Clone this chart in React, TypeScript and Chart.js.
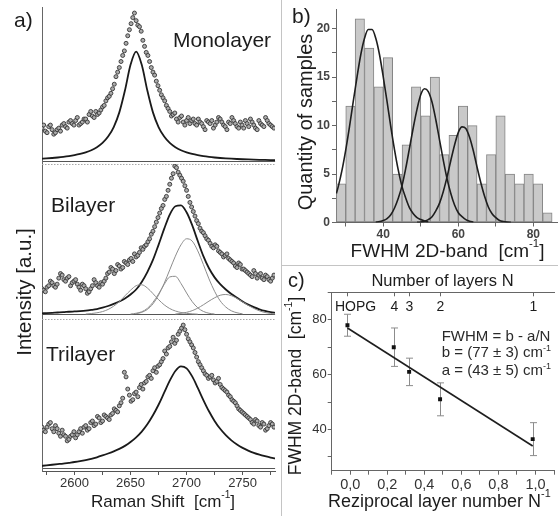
import React, { useEffect, useRef } from 'react';
import { Chart, registerables } from 'chart.js';

Chart.register(...registerables);

const FONT = "'Liberation Sans', Arial, Helvetica, sans-serif";
Chart.defaults.font.family = FONT;

// ---------- Panel a: Raman 2D band ----------
const ramanShift = [
  2571, 2572.5, 2574, 2575.5, 2577, 2578.5, 2580, 2581.5, 2583, 2584.5,
  2586, 2587.5, 2589, 2590.5, 2592, 2593.5, 2595, 2596.5, 2598, 2599.5,
  2601, 2602.5, 2604, 2605.5, 2607, 2608.5, 2610, 2611.5, 2613, 2614.5,
  2616, 2617.5, 2619, 2620.5, 2622, 2623.5, 2625, 2626.5, 2628, 2629.5,
  2631, 2632.5, 2634, 2635.5, 2637, 2638.5, 2640, 2641.5, 2643, 2644.5,
  2646, 2647.5, 2649, 2650.5, 2652, 2653.5, 2655, 2656.5, 2658, 2659.5,
  2661, 2662.5, 2664, 2665.5, 2667, 2668.5, 2670, 2671.5, 2673, 2674.5,
  2676, 2677.5, 2679, 2680.5, 2682, 2683.5, 2685, 2686.5, 2688, 2689.5,
  2691, 2692.5, 2694, 2695.5, 2697, 2698.5, 2700, 2701.5, 2703, 2704.5,
  2706, 2707.5, 2709, 2710.5, 2712, 2713.5, 2715, 2716.5, 2718, 2719.5,
  2721, 2722.5, 2724, 2725.5, 2727, 2728.5, 2730, 2731.5, 2733, 2734.5,
  2736, 2737.5, 2739, 2740.5, 2742, 2743.5, 2745, 2746.5, 2748, 2749.5,
  2751, 2752.5, 2754, 2755.5, 2757, 2758.5, 2760, 2761.5, 2763, 2764.5,
  2766, 2767.5, 2769, 2770.5, 2772, 2773.5, 2775, 2776.5, 2778,
];
const monoData = [
  22, 24, 20, 19, 23, 24, 21, 18, 19, 21, 22, 20, 24, 25, 23, 22, 26, 27, 25, 24,
  27, 29, 24, 25, 26, 28, 28, 26, 31, 33, 30, 29, 33, 31, 32, 34, 36, 37, 40, 42,
  43, 45, 48, 51, 56, 59, 62, 66, 70, 73, 78, 83, 87, 91, 95, 98, 93, 90, 89, 86,
  80, 76, 72, 70, 66, 62, 59, 57, 53, 50, 47, 44, 42, 40, 37, 35, 33, 30, 31, 32,
  28, 26, 29, 30, 26, 24, 27, 29, 25, 27, 28, 25, 24, 28, 26, 25, 23, 21, 27, 26,
  25, 27, 22, 24, 26, 29, 28, 26, 24, 23, 21, 26, 25, 29, 27, 25, 23, 22, 26, 24,
  22, 27, 25, 23, 28, 26, 24, 22, 21, 27, 25, 24, 23, 29, 27, 25, 24, 23, 22,
];
const biData = [
  17, 16, 15, 18, 19, 22, 21, 19, 18, 20, 24, 27, 26, 23, 22, 24, 25, 19, 21, 22,
  23, 20, 18, 16, 20, 19, 17, 14, 15, 17, 19, 23, 21, 19, 18, 21, 20, 22, 24, 27,
  28, 31, 30, 27, 29, 33, 32, 30, 31, 35, 34, 33, 36, 37, 35, 40, 38, 39, 41, 44,
  43, 45, 46, 48, 50, 53, 55, 58, 61, 64, 67, 70, 72, 76, 78, 82, 86, 90, 93, 98,
  97, 94, 92, 90, 88, 85, 82, 78, 74, 71, 68, 65, 62, 60, 57, 55, 54, 52, 50, 49,
  47, 45, 44, 46, 45, 42, 41, 40, 38, 39, 40, 37, 36, 35, 34, 32, 31, 34, 33, 30,
  30, 29, 28, 27, 26, 25, 29, 27, 24, 26, 27, 24, 23, 26, 25, 23, 22, 24, 26,
];
const triData = [
  27, 25, 24, 27, 29, 30, 26, 24, 28, 26, 23, 21, 25, 22, 21, 18, 19, 21, 22, 24,
  20, 22, 24, 26, 23, 27, 28, 25, 26, 30, 31, 28, 29, 34, 33, 30, 31, 35, 34, 33,
  32, 35, 36, 39, 38, 37, 41, 43, 46, 63, 60, 52, 48, 44, 45, 49, 50, 47, 53, 55,
  52, 56, 57, 60, 61, 59, 64, 66, 63, 67, 68, 70, 72, 77, 75, 79, 80, 83, 86, 82,
  84, 88, 90, 92, 94, 91, 88, 85, 83, 81, 79, 76, 73, 70, 68, 66, 64, 62, 61, 59,
  60, 61, 58, 56, 57, 59, 55, 53, 52, 51, 50, 48, 47, 45, 44, 43, 41, 39, 38, 37,
  36, 35, 34, 33, 32, 30, 29, 32, 31, 28, 27, 30, 29, 25, 26, 28, 30, 29, 27,
];

const fitShift = [2570, 2575, 2580, 2585, 2590, 2595, 2600, 2605, 2610, 2615, 2620, 2625, 2630, 2635, 2640, 2645, 2650, 2655, 2660, 2665, 2670, 2675, 2680, 2685, 2690, 2695, 2700, 2705, 2710, 2715, 2720, 2725, 2730, 2735, 2740, 2745, 2750, 2755, 2760, 2765, 2770, 2775, 2780];
const monoFit = [1.79, 2.01, 2.27, 2.6, 3.0, 3.49, 4.12, 4.93, 5.99, 7.41, 9.39, 12.2, 16.4, 22.7, 32.4, 46.8, 63.8, 72.5, 63.8, 46.8, 32.4, 22.7, 16.4, 12.2, 9.39, 7.41, 5.99, 4.93, 4.12, 3.49, 3.0, 2.6, 2.27, 2.01, 1.79, 1.6, 1.44, 1.3, 1.18, 1.08, 0.99, 0.91, 0.84];
const biFit = [0.7, 0.9, 1.1, 1.3, 1.5, 1.8, 2.0, 2.2, 2.5, 3.0, 3.6, 4.5, 5.6, 7.0, 8.6, 10.6, 13.2, 16.5, 21.5, 28, 36, 46, 56.5, 66, 71.5, 72, 67.5, 59, 48.5, 38.5, 30.5, 24.5, 20, 16.5, 13.5, 11, 8.5, 6.5, 4.8, 3.4, 2.3, 1.5, 1.0];
const biComp1 = [null, null, null, null, null, null, null, null, 0.3, 0.6, 1.1, 1.9, 3.3, 5.5, 8.5, 12.3, 16, 19, 19.6, 17.5, 13.8, 9.8, 6.4, 3.9, 2.3, 1.3, 0.7, 0.4, 0.2, null, null, null, null, null, null, null, null, null, null, null, null, null, null];
const biComp2 = [null, null, null, null, null, null, null, null, null, null, null, null, null, null, null, null, 0.3, 0.8, 1.8, 4, 8, 13.5, 19.8, 24.8, 25.2, 20.5, 14.2, 8.5, 4.4, 2, 0.8, 0.3, null, null, null, null, null, null, null, null, null, null, null];
const biComp3 = [null, null, null, null, null, null, null, null, null, null, null, null, null, null, null, null, null, 0.5, 1.4, 3.3, 7, 12.8, 20.5, 29.5, 38.5, 46, 50, 48.5, 42, 33, 23.5, 15.3, 9, 4.9, 2.4, 1.1, 0.4, null, null, null, null, null, null];
const biComp4 = [null, null, null, null, null, null, null, null, null, null, null, null, null, null, null, null, null, null, null, null, null, null, null, null, 0.3, 0.7, 1.4, 2.5, 4.2, 6.4, 8.8, 11, 12.7, 13.2, 12.4, 10.6, 8.3, 6, 4, 2.4, 1.3, 0.7, 0.3];
const triFit = [1.5, 1.9, 2.3, 2.7, 3.1, 3.6, 4.1, 4.7, 5.4, 6.2, 7.2, 8.4, 9.7, 11.1, 12.7, 14.7, 17.2, 20.3, 24.1, 28.9, 34.8, 41.7, 49.6, 57.5, 63.9, 66.9, 65.6, 60.3, 52.8, 44.8, 37.4, 31.1, 25.9, 21.7, 18.3, 15.6, 13.4, 11.6, 10.1, 8.9, 7.9, 7.0, 6.3];

// ---------- Panel b: FWHM histogram ----------
const binCenters = [28.75, 31.25, 33.75, 36.25, 38.75, 41.25, 43.75, 46.25, 48.75, 51.25, 53.75, 56.25, 58.75, 61.25, 63.75, 66.25, 68.75, 71.25, 73.75, 76.25, 78.75, 81.25, 83.75];
const sampleCounts = [4, 12, 21, 18, 14, 17, 5, 8, 14, 11, 15, 7, 9, 12, 10, 4, 7, 11, 5, 4, 5, 4, 1];
const gauss1X = [27.5, 28, 29, 30, 31, 32, 33, 34, 35, 36, 37, 38, 39, 40, 41, 42, 43, 44, 45, 46, 47, 48, 49, 50, 51, 52];
const gauss1Y = [3.0, 3.7, 5.4, 7.5, 9.9, 12.5, 15.0, 17.3, 19.0, 19.9, 19.9, 19.0, 17.3, 15.0, 12.5, 9.9, 7.5, 5.4, 3.7, 2.5, 1.5, 0.9, 0.5, 0.3, 0.15, 0.07];
const gauss2X = [38, 39, 40, 41, 42, 43, 44, 45, 46, 47, 48, 49, 50, 51, 52, 53, 54, 55, 56, 57, 58, 59, 60, 61, 62, 63, 64];
const gauss2Y = [0.04, 0.1, 0.2, 0.4, 0.8, 1.5, 2.5, 3.8, 5.6, 7.7, 9.8, 11.7, 13.2, 13.8, 13.5, 12.4, 10.6, 8.5, 6.4, 4.5, 3.0, 1.8, 1.0, 0.6, 0.3, 0.13, 0.05];
const gauss3X = [49, 50, 51, 52, 53, 54, 55, 56, 57, 58, 59, 60, 61, 62, 63, 64, 65, 66, 67, 68, 69, 70, 71, 72, 73, 74];
const gauss3Y = [0.02, 0.06, 0.14, 0.3, 0.6, 1.2, 2.0, 3.2, 4.7, 6.4, 8.0, 9.3, 9.86, 9.7, 8.8, 7.4, 5.7, 4.1, 2.7, 1.6, 0.9, 0.5, 0.2, 0.1, 0.04, 0.01];

// ---------- Panel c: FWHM vs 1/N ----------
const recipN = [0, 0.25, 0.333, 0.5, 1.0];
const fwhmVals = [78, 70, 61, 51, 36.5];
const fwhmErr = [4, 7, 5, 6, 6];
const fitLineX = [0, 1];
const fitLineY = [77, 34];
const layerLabels = ['HOPG', '4', '3', '2', '1'];
const layerPos = [0, 0.25, 0.333, 0.5, 1.0];

// ---------- helpers ----------
type Part = { t: string; sup?: boolean };
type TextItem = {
  x: number; y: number; parts: Part[]; size: number; weight?: string; color?: string;
  align?: 'left' | 'center'; rot?: number; baseline?: CanvasTextBaseline;
};

function drawRich(ctx: CanvasRenderingContext2D, it: TextItem) {
  const size = it.size;
  const supSize = size * 0.6;
  const weight = it.weight || 'normal';
  const fontOf = (s: number) => `${weight} ${s}px ${FONT}`;
  let total = 0;
  const widths = it.parts.map((p) => {
    ctx.font = fontOf(p.sup ? supSize : size);
    const w = ctx.measureText(p.t).width;
    total += w;
    return w;
  });
  ctx.save();
  ctx.translate(it.x, it.y);
  if (it.rot) ctx.rotate((it.rot * Math.PI) / 180);
  ctx.fillStyle = it.color || '#1c1c1c';
  ctx.textBaseline = it.baseline || 'alphabetic';
  ctx.textAlign = 'left';
  let x = it.align === 'center' ? -total / 2 : 0;
  it.parts.forEach((p, i) => {
    ctx.font = fontOf(p.sup ? supSize : size);
    ctx.fillText(p.t, x, p.sup ? -size * 0.42 : 0);
    x += widths[i];
  });
  ctx.restore();
}

function textPlugin(items: TextItem[]) {
  return {
    id: 'richTexts',
    afterDraw(chart: any) {
      const ctx = chart.ctx as CanvasRenderingContext2D;
      items.forEach((it) => drawRich(ctx, it));
    },
  };
}

const pts = (xs: number[], ys: (number | null)[]) =>
  xs.map((x, i) => ({ x, y: ys[i] })).filter((p) => p.y !== null && p.y !== undefined) as { x: number; y: number }[];

const cm = (pre: string, post = ']'): Part[] => [{ t: pre }, { t: '-1', sup: true }, { t: post }];

const noLegend = { legend: { display: false }, tooltip: { enabled: false } };

// ---------- Chart a ----------
function makeA(canvas: HTMLCanvasElement) {
  const yStack = (weight: number, sw: number, min: number, max: number) => ({
    type: 'linear',
    position: 'left',
    stack: 'spectra',
    stackWeight: sw,
    weight,
    min,
    max,
    afterBuildTicks: (s: any) => { s.ticks = [{ value: 0 }]; },
    ticks: { display: false },
    grid: { drawTicks: false, color: '#555', lineWidth: 1 },
    border: { display: true, color: '#666', width: 1 },
    afterFit: (s: any) => { s.width = 0; },
  });
  const dots = (data: number[], axis: string) => ({
    data: pts(ramanShift, data), yAxisID: axis, showLine: false, pointRadius: 2,
    pointBorderWidth: 0.9, pointBorderColor: '#363636', pointBackgroundColor: '#ababab',
  });
  const fit = (data: (number | null)[], axis: string, color = '#1a1a1a', width = 1.8) => ({
    data: pts(fitShift, data), yAxisID: axis, borderColor: color, borderWidth: width,
    pointRadius: 0, cubicInterpolationMode: 'monotone', fill: false,
  });
  const separators = {
    id: 'separators',
    beforeDatasetsDraw(chart: any) {
      const { ctx, chartArea } = chart;
      ctx.save();
      ctx.strokeStyle = '#a8a8a8';
      ctx.lineWidth = 1;
      ctx.setLineDash([1.5, 1.5]);
      ['yMono', 'yBi'].forEach((id) => {
        const y = Math.round(chart.scales[id].bottom) + 0.5;
        ctx.beginPath();
        ctx.moveTo(chartArea.left, y);
        ctx.lineTo(chartArea.right, y);
        ctx.stroke();
      });
      ctx.restore();
    },
  };
  const texts: TextItem[] = [
    { x: 14, y: 27, parts: [{ t: 'a)' }], size: 21 },
    { x: 173, y: 47, parts: [{ t: 'Monolayer' }], size: 21 },
    { x: 51, y: 212, parts: [{ t: 'Bilayer' }], size: 21 },
    { x: 46, y: 361, parts: [{ t: 'Trilayer' }], size: 21 },
    { x: 25, y: 292, parts: [{ t: 'Intensity [a.u.]' }], size: 20.5, rot: -90, align: 'center', baseline: 'middle' },
    { x: 163, y: 502, parts: cm('Raman Shift  [cm'), size: 17, align: 'center', baseline: 'middle' },
  ];
  return new Chart(canvas, {
    type: 'line',
    data: {
      datasets: [
        dots(monoData, 'yMono'),
        fit(monoFit, 'yMono'),
        dots(biData, 'yBi'),
        fit(biComp1, 'yBi', '#8c8c8c', 1),
        fit(biComp2, 'yBi', '#8c8c8c', 1),
        fit(biComp3, 'yBi', '#8c8c8c', 1),
        fit(biComp4, 'yBi', '#8c8c8c', 1),
        fit(biFit, 'yBi'),
        dots(triData, 'yTri'),
        fit(triFit, 'yTri'),
      ] as any,
    },
    options: {
      animation: false,
      responsive: false,
      devicePixelRatio: 1,
      layout: { padding: { left: 42, right: 1, top: 7, bottom: 0 } },
      plugins: noLegend as any,
      scales: {
        x: {
          type: 'linear', position: 'bottom', min: 2571, max: 2779,
          ticks: {
            stepSize: 25, includeBounds: false, autoSkip: false, maxRotation: 0, padding: 1,
            color: '#333', font: { size: 13 },
            callback: (v: any) => (Math.round(v) % 50 === 0 ? String(Math.round(v)) : ''),
          },
          grid: { drawOnChartArea: false, drawTicks: true, tickLength: 4, color: '#555' },
          border: { color: '#555' },
          afterFit: (s: any) => { s.height = 45; },
        },
        yMono: yStack(3, 157, -1.7, 102),
        yBi: yStack(2, 155, -3.0, 99.4),
        yTri: yStack(1, 152, -1.8, 98),
      } as any,
    },
    plugins: [separators, textPlugin(texts)],
  });
}

// ---------- Chart b ----------
function makeB(canvas: HTMLCanvasElement) {
  const gauss = (xs: number[], ys: number[]) => ({
    type: 'line', data: pts(xs, ys), borderColor: '#1e1e1e', borderWidth: 1.6, pointRadius: 0,
    cubicInterpolationMode: 'monotone', fill: false, order: 1,
  });
  const texts: TextItem[] = [
    { x: 9, y: 23, parts: [{ t: 'b)' }], size: 21 },
    { x: 23.7, y: 122, parts: [{ t: 'Quantity of samples' }], size: 20, rot: -90, align: 'center', baseline: 'middle' },
    { x: 164.5, y: 251.5, parts: cm('FWHM 2D-band  [cm'), size: 19, align: 'center', baseline: 'middle' },
  ];
  return new Chart(canvas, {
    type: 'bar',
    data: {
      datasets: [
        {
          type: 'bar', data: pts(binCenters, sampleCounts), backgroundColor: '#c9c9c9',
          borderColor: '#858585', borderWidth: 1, borderSkipped: false,
          barPercentage: 1, categoryPercentage: 1, order: 2,
        },
        gauss(gauss1X, gauss1Y),
        gauss(gauss2X, gauss2Y),
        gauss(gauss3X, gauss3Y),
      ] as any,
    },
    options: {
      animation: false,
      responsive: false,
      devicePixelRatio: 1,
      layout: { padding: { left: 0, right: 1, top: 8, bottom: 0 } },
      plugins: noLegend as any,
      scales: {
        x: {
          type: 'linear', min: 27.4, max: 86.3, offset: false,
          ticks: {
            stepSize: 10, includeBounds: false, autoSkip: false, maxRotation: 0, padding: 0.5,
            color: '#444', font: { size: 12, weight: 'bold' },
            callback: (v: any) => (Math.round(v) % 20 === 0 ? String(Math.round(v)) : ''),
          },
          grid: { offset: false, drawOnChartArea: false, tickLength: 4, color: '#666' },
          border: { color: '#666' },
          afterFit: (s: any) => { s.height = 41.5; },
        },
        y: {
          type: 'linear', min: 0, max: 22,
          ticks: {
            stepSize: 2.5, includeBounds: false, padding: 2, color: '#444',
            font: { size: 12, weight: 'bold' },
            callback: (v: any) => (v % 5 === 0 ? String(v) : ''),
          },
          grid: { drawOnChartArea: false, tickLength: 4, color: '#666' },
          border: { color: '#666' },
          afterFit: (s: any) => { s.width = 53; },
        },
      } as any,
    },
    plugins: [textPlugin(texts)],
  });
}

// ---------- Chart c ----------
function makeC(canvas: HTMLCanvasElement) {
  const errorBars = {
    id: 'errorBars',
    beforeDatasetsDraw(chart: any) {
      const { ctx, scales } = chart;
      const x = scales.x, y = scales.y;
      ctx.save();
      ctx.strokeStyle = '#8c8c8c';
      ctx.lineWidth = 1;
      recipN.forEach((n, i) => {
        const px = Math.round(x.getPixelForValue(n)) + 0.5;
        const top = y.getPixelForValue(fwhmVals[i] + fwhmErr[i]);
        const bot = y.getPixelForValue(fwhmVals[i] - fwhmErr[i]);
        ctx.beginPath();
        ctx.moveTo(px, top); ctx.lineTo(px, bot);
        ctx.moveTo(px - 3.5, top); ctx.lineTo(px + 3.5, top);
        ctx.moveTo(px - 3.5, bot); ctx.lineTo(px + 3.5, bot);
        ctx.stroke();
      });
      ctx.restore();
    },
  };
  const topAxis = {
    id: 'topAxisLabels',
    afterDraw(chart: any) {
      const { ctx, chartArea } = chart;
      const s = chart.scales.xTop;
      ctx.save();
      ctx.strokeStyle = '#666';
      ctx.lineWidth = 1;
      ctx.fillStyle = '#1c1c1c';
      ctx.font = `14px ${FONT}`;
      ctx.textAlign = 'center';
      ctx.textBaseline = 'middle';
      layerPos.forEach((v, i) => {
        const px = Math.round(s.getPixelForValue(v)) + 0.5;
        ctx.beginPath();
        ctx.moveTo(px, chartArea.top);
        ctx.lineTo(px, chartArea.top + 4);
        ctx.stroke();
        ctx.fillText(layerLabels[i], px + (i === 0 ? 8 : 0), chartArea.top + 14.5);
      });
      ctx.restore();
    },
  };
  const texts: TextItem[] = [
    { x: 5, y: 20.5, parts: [{ t: 'c)' }], size: 20 },
    { x: 159.5, y: 15, parts: [{ t: 'Number of layers N' }], size: 16.5, align: 'center', baseline: 'middle' },
    { x: 13, y: 120, parts: cm('FWHM 2D-band  [cm'), size: 17.5, rot: -90, align: 'center', baseline: 'middle' },
    { x: 45, y: 235.7, parts: cm('Reziprocal layer number N', ''), size: 18, baseline: 'middle' },
    { x: 158.7, y: 75, parts: [{ t: 'FWHM = b - a/N' }], size: 15, color: '#2a2a2a' },
    { x: 158.7, y: 91, parts: cm('b = (77 ± 3) cm', ''), size: 15, color: '#2a2a2a' },
    { x: 158.7, y: 109, parts: cm('a = (43 ± 5) cm', ''), size: 15, color: '#2a2a2a' },
  ];
  return new Chart(canvas, {
    type: 'scatter',
    data: {
      datasets: [
        {
          type: 'line', data: pts(fitLineX, fitLineY), borderColor: '#1e1e1e', borderWidth: 1.6,
          pointRadius: 0, fill: false,
        },
        {
          type: 'scatter', data: pts(recipN, fwhmVals), pointStyle: 'rect', pointRadius: 2.8,
          backgroundColor: '#111', borderColor: '#111', borderWidth: 0,
        },
      ] as any,
    },
    options: {
      animation: false,
      responsive: false,
      devicePixelRatio: 1,
      layout: { padding: { left: 0, right: 0.5, top: 0, bottom: 0 } },
      plugins: noLegend as any,
      scales: {
        x: {
          type: 'linear', position: 'bottom', min: -0.085, max: 1.115,
          ticks: {
            stepSize: 0.1, includeBounds: false, autoSkip: false, maxRotation: 0, padding: 1.6,
            color: '#333', font: { size: 14.5 },
            callback: (v: any) => {
              const k = Math.round(v * 10);
              return k % 2 === 0 && k <= 10 ? (k / 10).toFixed(1).replace('.', ',') : '';
            },
          },
          grid: { drawOnChartArea: false, tickLength: 4, color: '#666' },
          border: { color: '#666' },
          afterFit: (s: any) => { s.height = 45.3; },
        },
        xTop: {
          type: 'linear', position: 'top', min: -0.085, max: 1.115,
          ticks: { display: false },
          grid: { display: false },
          border: { display: true, color: '#666' },
          afterFit: (s: any) => { s.height = 26.3; },
        },
        y: {
          type: 'linear', min: 25, max: 90,
          ticks: {
            stepSize: 10, includeBounds: false, padding: 1, color: '#333', font: { size: 13 },
            callback: (v: any) => (Math.round(v) % 20 === 0 ? String(Math.round(v)) : ''),
          },
          grid: { drawOnChartArea: false, tickLength: 4, color: '#666' },
          border: { color: '#666' },
          afterFit: (s: any) => { s.width = 48.7; },
        },
      } as any,
    },
    plugins: [errorBars, topAxis, textPlugin(texts)],
  });
}

export default function App() {
  const aRef = useRef<HTMLCanvasElement>(null);
  const bRef = useRef<HTMLCanvasElement>(null);
  const cRef = useRef<HTMLCanvasElement>(null);

  useEffect(() => {
    const charts = [makeA(aRef.current!), makeB(bRef.current!), makeC(cRef.current!)];
    return () => charts.forEach((c) => c.destroy());
  }, []);

  return (
    <div style={{ position: 'absolute', left: 0, top: 0, width: 558, height: 516, background: '#fff', overflow: 'hidden' }}>
      <canvas ref={aRef} width={280} height={516} style={{ position: 'absolute', left: 0, top: 0 }} />
      <canvas ref={bRef} width={275} height={264} style={{ position: 'absolute', left: 283, top: 0 }} />
      <canvas ref={cRef} width={275} height={250} style={{ position: 'absolute', left: 283, top: 266 }} />
      <div style={{ position: 'absolute', left: 281, top: 0, width: 1, height: 516, background: '#c4c4c4' }} />
      <div style={{ position: 'absolute', left: 282, top: 265, width: 276, height: 1, background: '#c4c4c4' }} />
    </div>
  );
}
